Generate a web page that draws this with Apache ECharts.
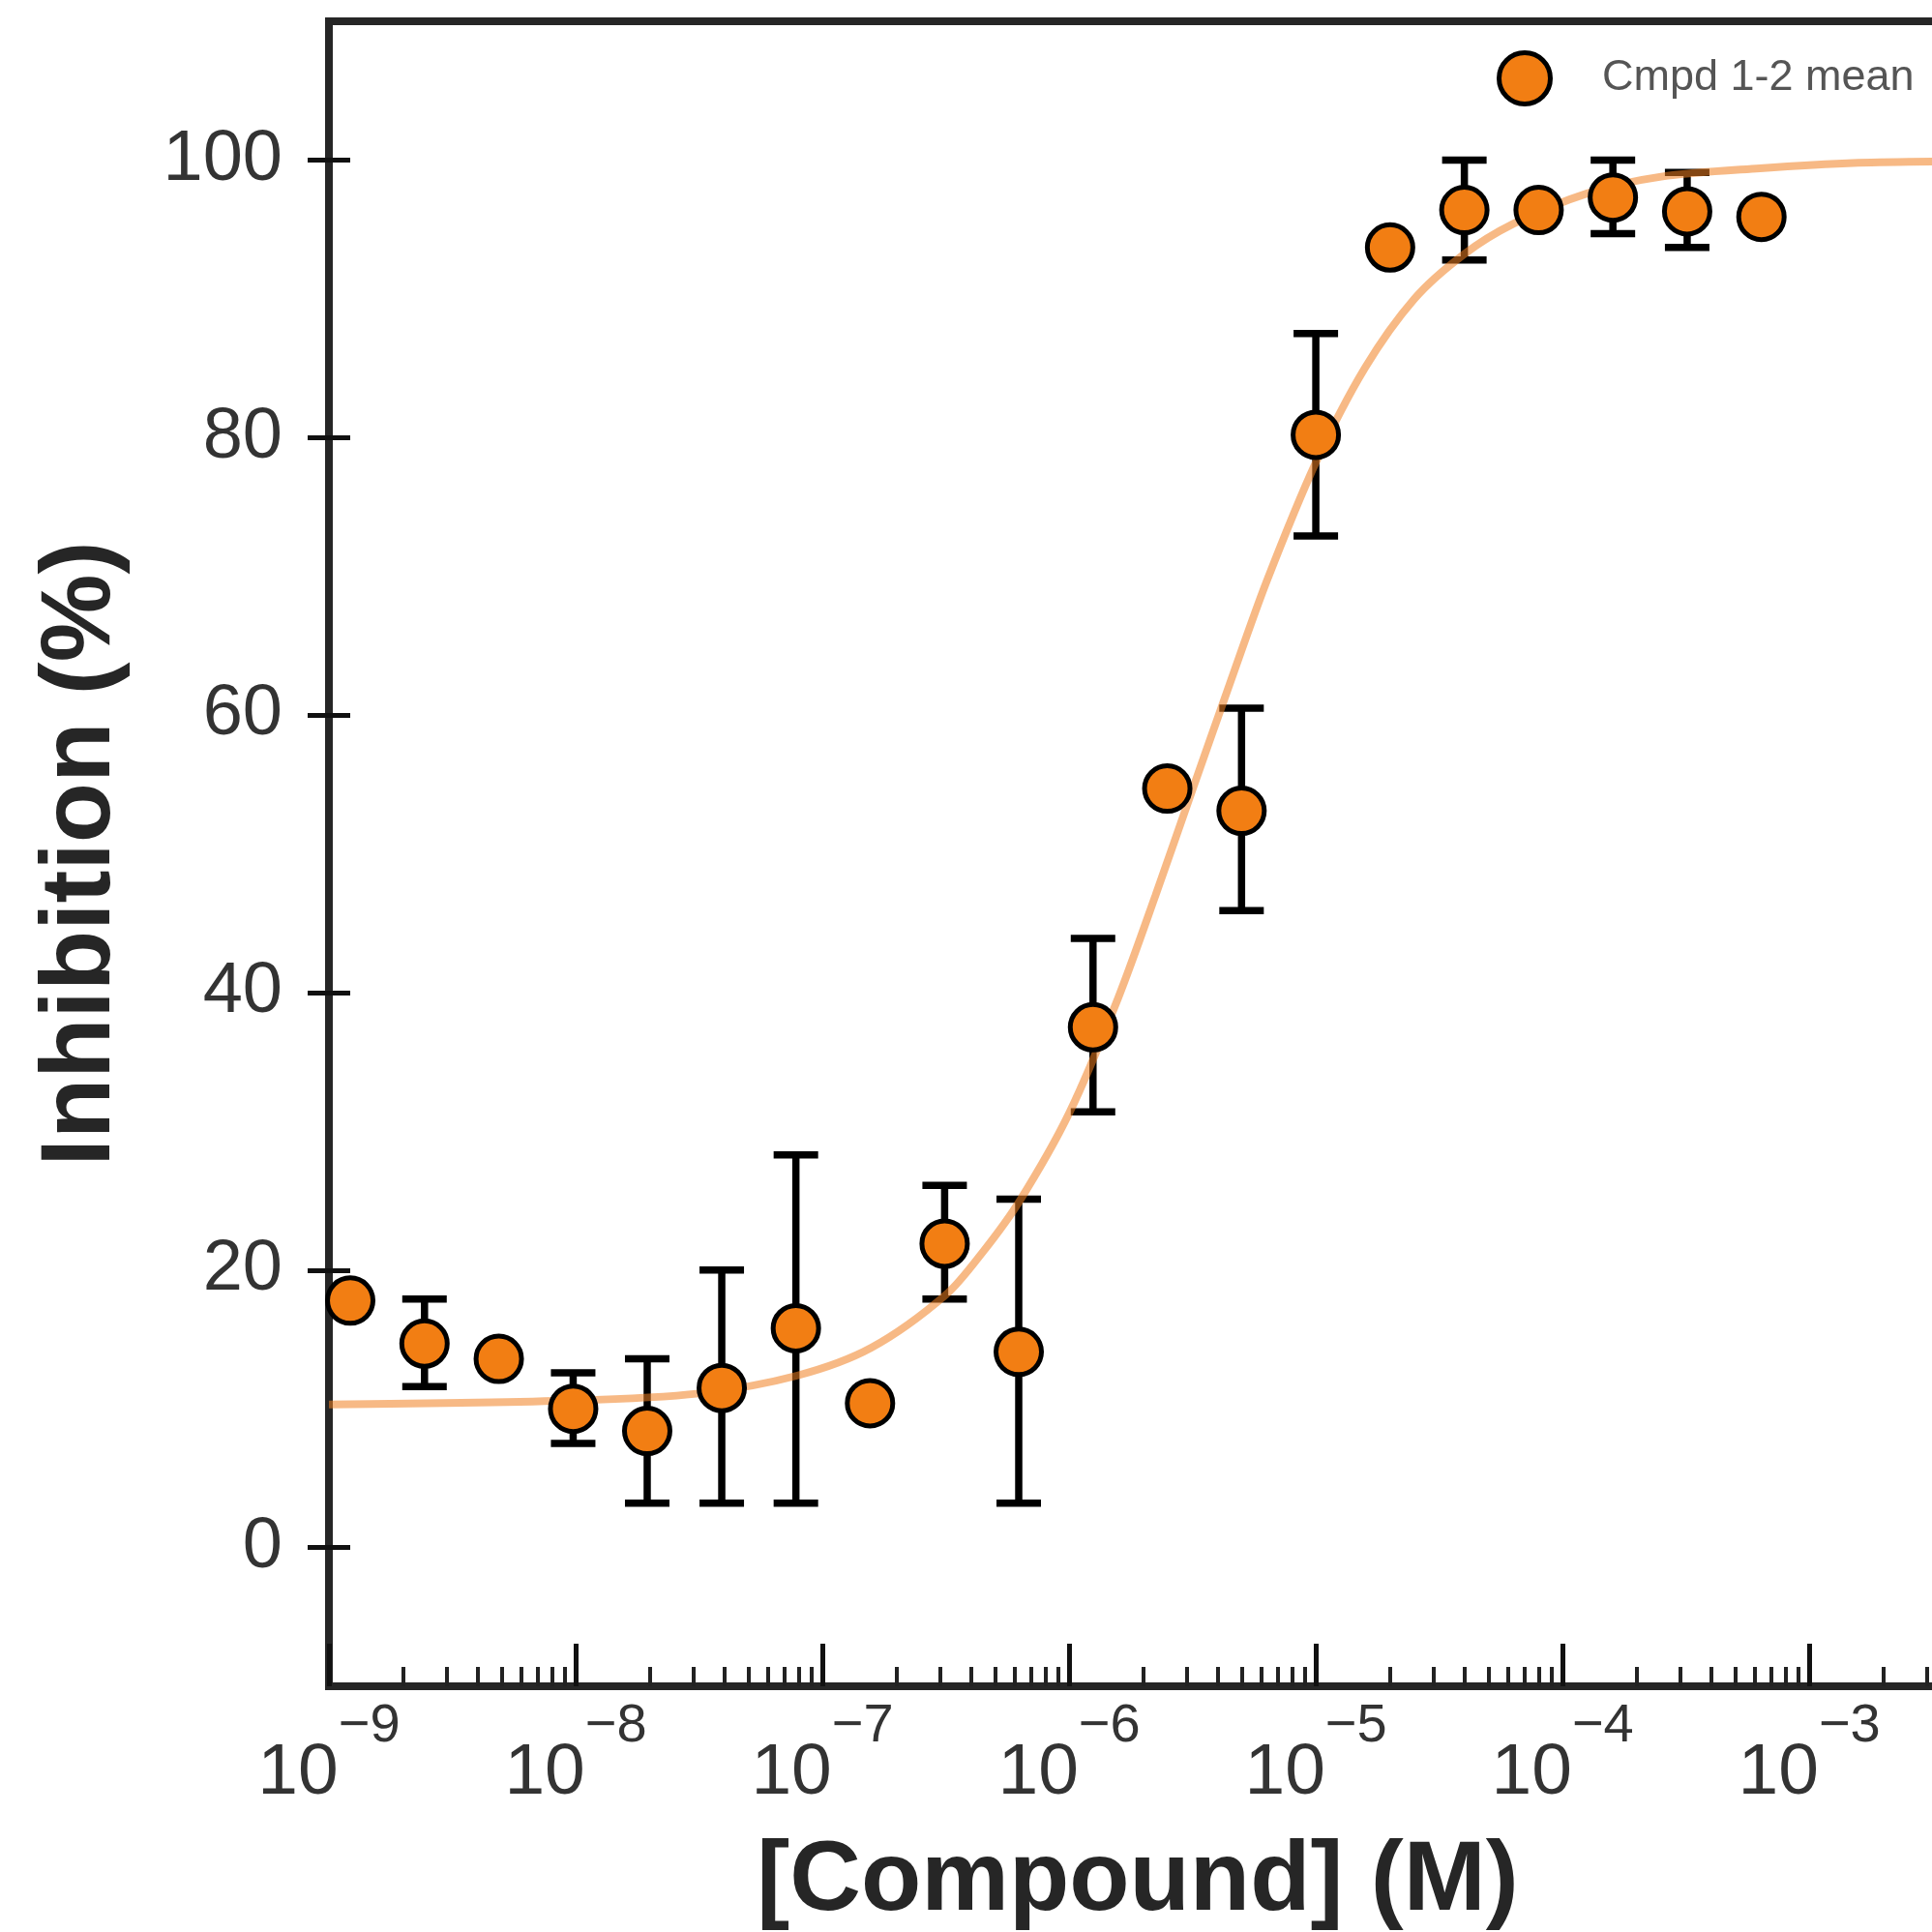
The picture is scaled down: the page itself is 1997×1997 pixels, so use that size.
<!DOCTYPE html>
<html><head><meta charset="utf-8">
<script src="https://cdn.jsdelivr.net/npm/echarts@6/dist/echarts.min.js"></script>
<style>html,body{margin:0;padding:0;background:#fff}#c{width:1997px;height:1997px}</style>
</head><body><div id="c"></div>
<script>
// ---- data ----
const concentrations = [1.22e-9, 2.44e-9, 4.88e-9, 9.77e-9, 1.95e-8, 3.91e-8, 7.81e-8, 1.56e-7, 3.13e-7, 6.25e-7,
                        1.25e-6, 2.5e-6, 5e-6, 1e-5, 2e-5, 4e-5, 8e-5, 1.6e-4, 3.2e-4, 6.4e-4];
const meanInhibition = [17.8, 14.7, 13.6, 10.0, 8.4, 11.5, 15.8, 10.4, 21.9, 14.1,
                        37.5, 54.7, 53.1, 80.2, 93.7, 96.4, 96.4, 97.3, 96.3, 95.9];
const errLow  = [null, 11.6, null, 7.5, 3.2, 3.2, 3.2, null, 17.9, 3.2,
                 31.4, null, 45.9, 72.9, null, 92.8, null, 94.7, 93.7, null];
const errHigh = [null, 17.9, null, 12.6, 13.6, 20.0, 28.3, null, 26.1, 25.1,
                 43.9, null, 60.5, 87.5, null, 100.0, null, 100.0, 99.1, null];
const fitConc = [1e-9, 1e-8, 3.16e-8, 7.94e-8, 1.58e-7, 3.16e-7, 4.47e-7, 6.31e-7, 1e-6, 1.58e-6, 2.24e-6,
                 3.16e-6, 4.47e-6, 6.31e-6, 1e-5, 1.58e-5, 2.51e-5, 3.98e-5, 6.31e-5, 1.26e-4, 2.51e-4,
                 6.31e-4, 1.58e-3, 3.6e-3];
const fitInhibition = [10.3, 10.6, 11.1, 12.4, 14.4, 18.2, 21.3, 25.0, 31.3, 39.6, 47.0,
                       54.6, 62.2, 69.6, 78.2, 85.0, 90.0, 93.2, 95.4, 97.6, 98.8,
                       99.4, 99.8, 99.9];
const yTickLabels = [0, 20, 40, 60, 80, 100];
const xMajorExponents = [-9, -8, -7, -6, -5, -4, -3];
const seriesName = 'Cmpd 1-2 mean';

// ---- build ----
const FONT = '"Liberation Sans", Arial, Helvetica, sans-serif';
const X_MIN = 1e-9, X_MAX = 3.6e-3;
const majorVals = xMajorExponents.map(e => Math.pow(10, e));
const minorVals = [];
for (let e = -9; e <= -3; e++) {
  for (let m = 2; m <= 9; m++) {
    const v = m * Math.pow(10, e);
    if (v <= X_MAX) minorVals.push(v);
  }
}
const scatterData = concentrations.map((c, i) => [c, meanInhibition[i]]);
const errData = [];
concentrations.forEach((c, i) => {
  if (errLow[i] != null && errHigh[i] != null) errData.push([c, errLow[i], errHigh[i]]);
});
const fitData = fitConc.map((c, i) => [c, fitInhibition[i]]);

const chart = echarts.init(document.getElementById('c'), null, {renderer: 'canvas'});
const ORANGE = '#f27e13';
chart.setOption({
  animation: false,
  backgroundColor: '#fff',
  grid: {left: 340, top: 22, width: 1672, height: 1721, show: true,
         borderColor: '#262626', borderWidth: 8, backgroundColor: 'transparent',
         containLabel: false, outerBoundsMode: 'none'},
  legend: {
    data: [{name: seriesName, icon: 'circle'}],
    left: 1542, top: 47, itemWidth: 150, itemHeight: 53,
    itemStyle: {color: ORANGE, borderColor: '#000', borderWidth: 5},
    textStyle: {fontSize: 45, color: '#555', fontFamily: FONT}
  },
  xAxis: [
    {type: 'log', logBase: 10, min: X_MIN, max: X_MAX, position: 'bottom', gridIndex: 0,
     axisLine: {show: true, onZero: false, lineStyle: {color: '#262626', width: 8}},
     axisTick: {show: true, inside: true, length: 44, lineStyle: {color: '#111', width: 5}, customValues: majorVals},
     minorTick: {show: false},
     axisLabel: {show: true, margin: 14, customValues: majorVals, hideOverlap: false,
       formatter: v => '{b|10}{s|\u2212' + (-Math.round(Math.log10(v))) + '}',
       rich: {
         b: {fontSize: 75, lineHeight: 114, verticalAlign: 'bottom', color: '#333', fontFamily: FONT},
         s: {fontSize: 56, lineHeight: 20, verticalAlign: 'top', color: '#333', fontFamily: FONT}
       }},
     splitLine: {show: false},
     name: '[Compound] (M)', nameLocation: 'middle', nameGap: 152, nameMoveOverlap: false,
     nameTextStyle: {fontSize: 102, fontWeight: 'bold', color: '#262626', fontFamily: FONT}},
    {type: 'log', logBase: 10, min: X_MIN, max: X_MAX, position: 'bottom', offset: 0, gridIndex: 0,
     axisLine: {show: false, onZero: false},
     axisTick: {show: true, inside: true, length: 20, lineStyle: {color: '#222', width: 4}, customValues: minorVals},
     minorTick: {show: false},
     axisLabel: {show: false},
     splitLine: {show: false}}
  ],
  yAxis: [
    {type: 'value', min: -10, max: 110, position: 'left', gridIndex: 0,
     axisLine: {show: true, onZero: false, lineStyle: {color: '#262626', width: 8}},
     axisTick: {show: true, inside: false, length: 22, lineStyle: {color: '#111', width: 5}, customValues: yTickLabels},
     axisLabel: {show: true, margin: 48, fontSize: 74, color: '#333', fontFamily: FONT, customValues: yTickLabels},
     splitLine: {show: false},
     name: 'Inhibition (%)', nameLocation: 'middle', nameGap: 204, nameMoveOverlap: false,
     nameTextStyle: {fontSize: 102, fontWeight: 'bold', color: '#262626', fontFamily: FONT}},
    {type: 'value', min: -10, max: 110, position: 'left', offset: 0, gridIndex: 0,
     axisLine: {show: false, onZero: false},
     axisTick: {show: true, inside: true, length: 22, lineStyle: {color: '#111', width: 5}, customValues: yTickLabels},
     axisLabel: {show: false},
     splitLine: {show: false}}
  ],
  series: [
    {type: 'custom', name: 'err', xAxisIndex: 0, yAxisIndex: 0, z: 2, silent: true,
     data: errData,
     renderItem: (params, api) => {
       const x = api.value(0);
       const lo = api.coord([x, api.value(1)]);
       const hi = api.coord([x, api.value(2)]);
       const w = 23;
       const st = {stroke: '#000', lineWidth: 7.5};
       return {type: 'group', children: [
         {type: 'line', shape: {x1: lo[0], y1: lo[1], x2: hi[0], y2: hi[1]}, style: st},
         {type: 'line', shape: {x1: hi[0] - w, y1: hi[1], x2: hi[0] + w, y2: hi[1]}, style: st},
         {type: 'line', shape: {x1: lo[0] - w, y1: lo[1], x2: lo[0] + w, y2: lo[1]}, style: st}
       ]};
     }},
    {type: 'line', name: 'fit', xAxisIndex: 0, yAxisIndex: 0, z: 3, data: fitData,
     showSymbol: false, smooth: 0.3, silent: true,
     lineStyle: {color: '#f08020', opacity: 0.55, width: 8}},
    {type: 'scatter', name: seriesName, xAxisIndex: 0, yAxisIndex: 0, z: 4, data: scatterData,
     symbol: 'circle', symbolSize: 47,
     itemStyle: {color: ORANGE, borderColor: '#000', borderWidth: 5, opacity: 1}}
  ]
});
</script></body></html>
